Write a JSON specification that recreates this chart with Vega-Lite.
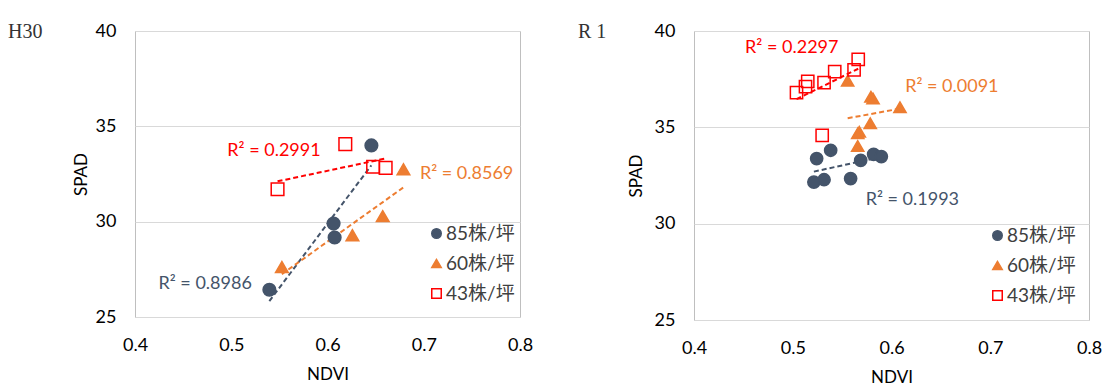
{
  "$schema": "https://vega.github.io/schema/vega-lite/v6.json",
  "background": "white",
  "padding": {"left": 7, "top": 21, "right": 0, "bottom": 0},
  "bounds": "flush",
  "spacing": 174,
  "datasets": {
    "pts": [
      {"panel": "H30", "series": "85株/坪", "NDVI": 0.6456, "SPAD": 34.0},
      {"panel": "H30", "series": "85株/坪", "NDVI": 0.6063, "SPAD": 29.9},
      {"panel": "H30", "series": "85株/坪", "NDVI": 0.6074, "SPAD": 29.17},
      {"panel": "H30", "series": "85株/坪", "NDVI": 0.5396, "SPAD": 26.43},
      {"panel": "H30", "series": "60株/坪", "NDVI": 0.5526, "SPAD": 27.62},
      {"panel": "H30", "series": "60株/坪", "NDVI": 0.6259, "SPAD": 29.29},
      {"panel": "H30", "series": "60株/坪", "NDVI": 0.6574, "SPAD": 30.29},
      {"panel": "H30", "series": "60株/坪", "NDVI": 0.6789, "SPAD": 32.75},
      {"panel": "H30", "series": "43株/坪", "NDVI": 0.6185, "SPAD": 34.07},
      {"panel": "H30", "series": "43株/坪", "NDVI": 0.5481, "SPAD": 31.70},
      {"panel": "H30", "series": "43株/坪", "NDVI": 0.6474, "SPAD": 32.88},
      {"panel": "H30", "series": "43株/坪", "NDVI": 0.6604, "SPAD": 32.82},
      {"panel": "R1", "series": "85株/坪", "NDVI": 0.5242, "SPAD": 33.38},
      {"panel": "R1", "series": "85株/坪", "NDVI": 0.5384, "SPAD": 33.81},
      {"panel": "R1", "series": "85株/坪", "NDVI": 0.5214, "SPAD": 32.16},
      {"panel": "R1", "series": "85株/坪", "NDVI": 0.5317, "SPAD": 32.28},
      {"panel": "R1", "series": "85株/坪", "NDVI": 0.5586, "SPAD": 32.34},
      {"panel": "R1", "series": "85株/坪", "NDVI": 0.5688, "SPAD": 33.29},
      {"panel": "R1", "series": "85株/坪", "NDVI": 0.5819, "SPAD": 33.60},
      {"panel": "R1", "series": "85株/坪", "NDVI": 0.5897, "SPAD": 33.48},
      {"panel": "R1", "series": "60株/坪", "NDVI": 0.5556, "SPAD": 37.42},
      {"panel": "R1", "series": "60株/坪", "NDVI": 0.5792, "SPAD": 36.59},
      {"panel": "R1", "series": "60株/坪", "NDVI": 0.5813, "SPAD": 36.50},
      {"panel": "R1", "series": "60株/坪", "NDVI": 0.6086, "SPAD": 36.04},
      {"panel": "R1", "series": "60株/坪", "NDVI": 0.5785, "SPAD": 35.21},
      {"panel": "R1", "series": "60株/坪", "NDVI": 0.5674, "SPAD": 34.77},
      {"panel": "R1", "series": "60株/坪", "NDVI": 0.5658, "SPAD": 34.69},
      {"panel": "R1", "series": "60株/坪", "NDVI": 0.5658, "SPAD": 34.03},
      {"panel": "R1", "series": "43株/坪", "NDVI": 0.5038, "SPAD": 36.80},
      {"panel": "R1", "series": "43株/坪", "NDVI": 0.5129, "SPAD": 37.11},
      {"panel": "R1", "series": "43株/坪", "NDVI": 0.5152, "SPAD": 37.39},
      {"panel": "R1", "series": "43株/坪", "NDVI": 0.5317, "SPAD": 37.32},
      {"panel": "R1", "series": "43株/坪", "NDVI": 0.5425, "SPAD": 37.89},
      {"panel": "R1", "series": "43株/坪", "NDVI": 0.5621, "SPAD": 37.98},
      {"panel": "R1", "series": "43株/坪", "NDVI": 0.5663, "SPAD": 38.53},
      {"panel": "R1", "series": "43株/坪", "NDVI": 0.5298, "SPAD": 34.58}
    ],
    "lab": [
      {"panel": "H30", "series": "43株/坪", "label": "R² = 0.2991", "NDVI": 0.5444, "SPAD": 33.72},
      {"panel": "H30", "series": "85株/坪", "label": "R² = 0.8986", "NDVI": 0.4729, "SPAD": 26.72},
      {"panel": "H30", "series": "60株/坪", "label": "R² = 0.8569", "NDVI": 0.7445, "SPAD": 32.49},
      {"panel": "R1", "series": "43株/坪", "label": "R² = 0.2297", "NDVI": 0.499, "SPAD": 39.10},
      {"panel": "R1", "series": "60株/坪", "label": "R² = 0.0091", "NDVI": 0.6611, "SPAD": 37.08},
      {"panel": "R1", "series": "85株/坪", "label": "R² = 0.1993", "NDVI": 0.6211, "SPAD": 31.23}
    ]
  },
  "hconcat": [
    {
      "width": 385,
      "height": 286,
      "title": {"text": "H30", "anchor": "start", "frame": "group", "orient": "top", "offset": 0, "baseline": "middle", "dx": -127, "dy": 30},
      "encoding": {
        "x": {"field": "NDVI", "type": "quantitative", "scale": {"domain": [0.4, 0.8], "nice": false, "zero": false},
              "axis": {"values": [0.4, 0.5, 0.6, 0.7, 0.8], "format": ".1f", "grid": false, "title": "NDVI"}},
        "y": {"field": "SPAD", "type": "quantitative", "scale": {"domain": [25, 40], "nice": false, "zero": false},
              "axis": {"values": [25, 30, 35, 40], "grid": true, "title": "SPAD", "titlePadding": 5}}
      },
      "layer": [
        {
          "data": {"name": "pts"},
          "transform": [{"filter": "datum.panel === 'H30'"}, {"regression": "SPAD", "on": "NDVI", "groupby": ["series"]}],
          "mark": {"type": "line", "strokeDash": [5, 3], "strokeWidth": 2},
          "encoding": {"color": {"field": "series", "type": "nominal", "scale": {"domain": ["43株/坪", "60株/坪", "85株/坪"], "range": ["#FF0000", "#ED7D31", "#44546A"]}, "legend": null}}
        },
        {
          "data": {"name": "pts"},
          "transform": [{"filter": "datum.panel === 'H30'"}],
          "mark": {"type": "point", "size": 160, "strokeWidth": 1.5, "opacity": 1},
          "encoding": {
            "shape": {"field": "series", "type": "nominal", "scale": {"domain": ["85株/坪", "60株/坪", "43株/坪"], "range": ["circle", "triangle-up", "square"]}, "legend": {"orient": "none", "legendX": 292, "legendY": 193, "title": null}},
            "fill": {"field": "series", "type": "nominal", "scale": {"domain": ["85株/坪", "60株/坪", "43株/坪"], "range": ["#44546A", "#ED7D31", "transparent"]}, "legend": {"orient": "none", "legendX": 292, "legendY": 193, "title": null}},
            "stroke": {"field": "series", "type": "nominal", "scale": {"domain": ["85株/坪", "60株/坪", "43株/坪"], "range": ["#44546A", "#ED7D31", "#FF0000"]}, "legend": {"orient": "none", "legendX": 292, "legendY": 193, "title": null}}
          }
        },
        {
          "data": {"name": "lab"},
          "transform": [{"filter": "datum.panel === 'H30'"}],
          "mark": {"type": "text", "fontSize": 18, "align": "center", "baseline": "middle"},
          "encoding": {"text": {"field": "label"}, "color": {"field": "series", "type": "nominal", "legend": null}}
        }
      ]
    },
    {
      "width": 395,
      "height": 289,
      "title": {"text": "R 1", "anchor": "start", "frame": "group", "orient": "top", "offset": 0, "baseline": "middle", "dx": -116, "dy": 30},
      "encoding": {
        "x": {"field": "NDVI", "type": "quantitative", "scale": {"domain": [0.4, 0.8], "nice": false, "zero": false},
              "axis": {"values": [0.4, 0.5, 0.6, 0.7, 0.8], "format": ".1f", "grid": false, "title": "NDVI"}},
        "y": {"field": "SPAD", "type": "quantitative", "scale": {"domain": [25, 40], "nice": false, "zero": false},
              "axis": {"values": [25, 30, 35, 40], "grid": true, "title": "SPAD", "titlePadding": 9}}
      },
      "layer": [
        {
          "data": {"name": "pts"},
          "transform": [{"filter": "datum.panel === 'R1'"}, {"regression": "SPAD", "on": "NDVI", "groupby": ["series"]}],
          "mark": {"type": "line", "strokeDash": [5, 3], "strokeWidth": 2},
          "encoding": {"color": {"field": "series", "type": "nominal", "scale": {"domain": ["43株/坪", "60株/坪", "85株/坪"], "range": ["#FF0000", "#ED7D31", "#44546A"]}, "legend": null}}
        },
        {
          "data": {"name": "pts"},
          "transform": [{"filter": "datum.panel === 'R1'"}],
          "mark": {"type": "point", "size": 150, "strokeWidth": 1.5, "opacity": 1},
          "encoding": {
            "shape": {"field": "series", "type": "nominal", "scale": {"domain": ["85株/坪", "60株/坪", "43株/坪"], "range": ["circle", "triangle-up", "square"]}, "legend": {"orient": "none", "legendX": 294, "legendY": 195, "title": null}},
            "fill": {"field": "series", "type": "nominal", "scale": {"domain": ["85株/坪", "60株/坪", "43株/坪"], "range": ["#44546A", "#ED7D31", "transparent"]}, "legend": {"orient": "none", "legendX": 294, "legendY": 195, "title": null}},
            "stroke": {"field": "series", "type": "nominal", "scale": {"domain": ["85株/坪", "60株/坪", "43株/坪"], "range": ["#44546A", "#ED7D31", "#FF0000"]}, "legend": {"orient": "none", "legendX": 294, "legendY": 195, "title": null}}
          }
        },
        {
          "data": {"name": "lab"},
          "transform": [{"filter": "datum.panel === 'R1'"}],
          "mark": {"type": "text", "fontSize": 18, "align": "center", "baseline": "middle"},
          "encoding": {"text": {"field": "label"}, "color": {"field": "series", "type": "nominal", "legend": null}}
        }
      ]
    }
  ],
  "resolve": {"scale": {"shape": "independent", "fill": "independent", "stroke": "independent", "color": "independent"}},
  "config": {
    "font": "Lato, Noto Sans CJK SC, sans-serif",
    "view": {"stroke": "#BFBFBF", "strokeWidth": 1},
    "axis": {
      "domain": false, "ticks": false, "labelPadding": 19, "labelFontSize": 18, "labelColor": "#000000",
      "labelFlush": false, "labelOverlap": false, "titleFontSize": 17, "titleFontWeight": "normal", "titleColor": "#000000",
      "gridColor": "#D9D9D9", "gridWidth": 1
    },
    "axisX": {"titlePadding": 12},
    "legend": {"symbolSize": 90, "labelFontSize": 19, "labelColor": "#404040", "rowPadding": 10, "labelOffset": 0, "symbolStrokeWidth": 1.5, "padding": 0},
    "title": {"font": "Liberation Serif", "fontSize": 20, "fontWeight": "normal", "color": "#333333"}
  }
}
